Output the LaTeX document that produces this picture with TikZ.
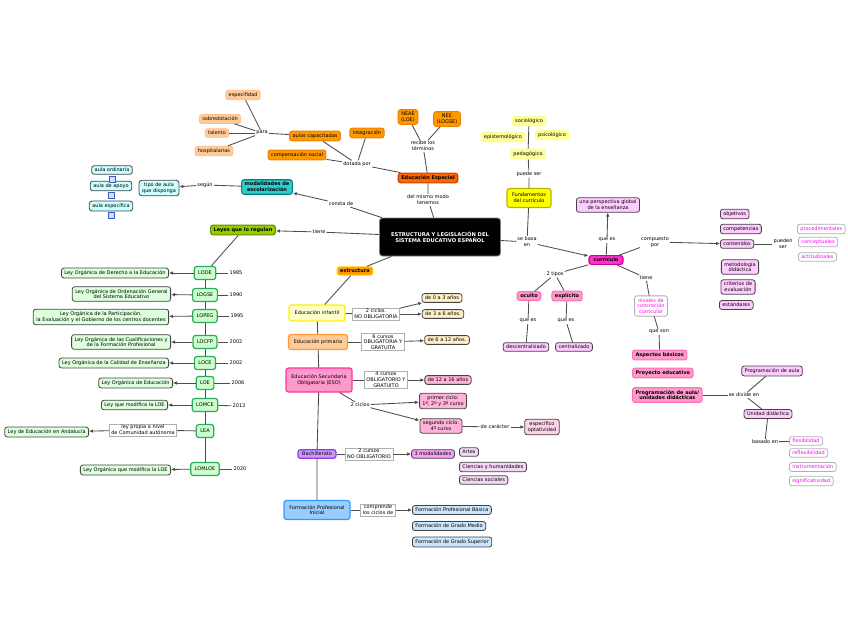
\documentclass[tikz,border=0pt]{standalone}
\usepackage{fontspec}
\setmainfont{DejaVu Sans}
\usetikzlibrary{arrows.meta}

\definecolor{linea}{HTML}{4D4D4D}
\definecolor{borde}{HTML}{444444}
\definecolor{gris}{HTML}{B0B0B0}
\definecolor{fucsiaT}{HTML}{FF00FF}

\tikzset{
	caja/.style={rounded corners=2.5pt, line width=0.8pt, inner xsep=3pt, inner ysep=2.4pt, align=center, font=\fontsize{5}{5.8}\selectfont},
	negrita/.style={font=\fontsize{5}{5.8}\selectfont\bfseries},
	sistema/.style={caja, fill=black, draw=gray, text=white, rounded corners=3pt, minimum width=121pt, minimum height=38pt, font=\fontsize{5.2}{6.4}\selectfont\bfseries},
	especial/.style={caja, negrita, fill={rgb,255:red,255;green,102;blue,0}, draw={rgb,255:red,190;green,70;blue,0}, line width=1.1pt},
	naranja/.style={caja, fill={rgb,255:red,255;green,153;blue,0}, draw={rgb,255:red,235;green,130;blue,0}, line width=1pt},
	melocoton/.style={caja, fill={rgb,255:red,255;green,204;blue,153}, draw={rgb,255:red,255;green,190;blue,140}, line width=0.8pt},
	turquesa/.style={caja, negrita, fill={rgb,255:red,51;green,204;blue,204}, draw={rgb,255:red,0;green,130;blue,130}, line width=1.1pt},
	celeste/.style={caja, fill={rgb,255:red,204;green,255;blue,255}, draw=borde},
	icono/.style={draw={rgb,255:red,60;green,90;blue,200}, fill={rgb,255:red,210;green,225;blue,255}, line width=0.6pt, minimum size=6pt, inner sep=0pt},
	leyes/.style={caja, negrita, fill={rgb,255:red,153;green,204;blue,0}, draw={rgb,255:red,90;green,140;blue,0}, line width=1.1pt},
	sigla/.style={caja, fill={rgb,255:red,204;green,255;blue,204}, draw={rgb,255:red,46;green,170;blue,94}, line width=1.2pt, inner xsep=4pt, minimum height=13pt},
	ley/.style={caja, fill={rgb,255:red,221;green,255;blue,221}, draw=borde},
	estruc/.style={caja, negrita, fill={rgb,255:red,255;green,153;blue,0}, draw={rgb,255:red,255;green,204;blue,0}, line width=1.1pt},
	infantil/.style={caja, fill={rgb,255:red,255;green,255;blue,204}, draw={rgb,255:red,255;green,240;blue,0}, line width=1.3pt},
	crema/.style={caja, fill={rgb,255:red,255;green,240;blue,200}, draw=borde},
	primaria/.style={caja, fill={rgb,255:red,255;green,204;blue,153}, draw={rgb,255:red,255;green,153;blue,51}, line width=1.2pt},
	eso/.style={caja, fill={rgb,255:red,255;green,153;blue,204}, draw={rgb,255:red,255;green,51;blue,153}, line width=1.2pt},
	rosa/.style={caja, fill={rgb,255:red,255;green,179;blue,217}, draw=borde},
	rosaclaro/.style={caja, fill={rgb,255:red,255;green,210;blue,235}, draw=borde},
	bach/.style={caja, fill={rgb,255:red,204;green,153;blue,255}, draw={rgb,255:red,150;green,60;blue,210}, line width=1.2pt},
	modal/.style={caja, fill={rgb,255:red,245;green,160;blue,245}, draw=borde},
	lila/.style={caja, fill={rgb,255:red,245;green,215;blue,245}, draw=borde},
	fp/.style={caja, fill={rgb,255:red,153;green,204;blue,255}, draw={rgb,255:red,51;green,153;blue,255}, line width=1.2pt},
	azul/.style={caja, fill={rgb,255:red,204;green,229;blue,255}, draw=borde},
	fund/.style={caja, fill={rgb,255:red,255;green,255;blue,0}, draw={rgb,255:red,180;green,180;blue,0}, line width=1.1pt},
	amarillo/.style={caja, fill={rgb,255:red,255;green,255;blue,153}, draw={rgb,255:red,255;green,255;blue,153}},
	curri/.style={caja, negrita, fill={rgb,255:red,255;green,51;blue,204}, draw={rgb,255:red,204;green,0;blue,153}, line width=1.1pt},
	malva/.style={caja, fill={rgb,255:red,255;green,204;blue,255}, draw=borde},
	fucsia/.style={caja, negrita, fill={rgb,255:red,255;green,153;blue,204}, draw={rgb,255:red,255;green,110;blue,180}, line width=1.1pt},
	blanco/.style={caja, fill=white, draw=gris, text=fucsiaT},
	lbl/.style={align=center, inner sep=1pt, fill=white, font=\fontsize{5}{5.8}\selectfont},
	lblcaja/.style={lbl, draw=gris, line width=0.6pt, inner xsep=2pt},
	anio/.style={inner sep=1pt, font=\fontsize{5}{5.8}\selectfont},
	con/.style={draw=linea, line width=0.85pt},
	flecha/.style={con, -{Latex[length=4pt,width=3.5pt]}}
}

\begin{document}
\begin{tikzpicture}[x=1pt,y=-1pt]
	\useasboundingbox (0,0) rectangle (848,638);

	\node (sistema) at (440,237)[sistema] {ESTRUCTURA Y LEGISLACIÓN DEL\\SISTEMA EDUCATIVO ESPAÑOL};

	\node (especial) at (428,178)[especial] {Educación Especial};
	\node (tenemos) at (428,200)[lbl] {del mismo modo\\tenemos};
	\node (recibe) at (423,146)[lbl] {recibe los\\términos};
	\node (neae) at (408,117)[naranja] {NEAE\\(LOE)};
	\node (nee) at (447,119)[naranja] {NEE\\(LOGSE)};
	\node (dotada) at (357,164)[lbl] {dotada por};
	\node (integracion) at (367,133)[naranja] {integración};
	\node (aulascap) at (315,136)[naranja] {aulas capacitadas};
	\node (compens) at (297,155)[naranja] {compensación social};
	\node (para) at (262,133)[lbl] {para};
	\node (especif) at (243,95)[melocoton] {especifidad};
	\node (sobredot) at (220,119)[melocoton] {sobredotación};
	\node (talento) at (217,133)[melocoton] {talento};
	\node (hospital) at (214,151)[melocoton] {hospitalarias};

	\node (modal) at (267,187)[turquesa] {modalidades de\\escolarización};
	\node (consta) at (341,204)[lbl] {consta de};
	\node (segun) at (205,185)[lbl] {según};
	\node (tipoaula) at (159,188)[celeste] {tipo de aula\\que disponga};
	\node (ordinaria) at (112,170)[celeste] {aula ordinaria};
	\node (apoyo) at (111,186)[celeste] {aula de apoyo};
	\node (especifica) at (111,206)[celeste] {aula específica};
	\node (icoA) at (112,179)[icono] {};
	\node (icoB) at (111,195)[icono] {};
	\node (icoC) at (111,215)[icono] {};

	\node (leyes) at (243,230)[leyes] {Leyes que lo regulan};
	\node (tiene) at (319,232)[lbl] {tiene};

	\node (lode) at (205,273)[sigla] {LODE};
	\node (logse) at (205,295)[sigla] {LOGSE};
	\node (lopeg) at (205,316)[sigla] {LOPEG};
	\node (locfp) at (205,342)[sigla] {LOCFP};
	\node (loce) at (205,363)[sigla] {LOCE};
	\node (loe) at (205,383)[sigla] {LOE};
	\node (lomce) at (205,405)[sigla] {LOMCE};
	\node (lea) at (205,431)[sigla] {LEA};
	\node (lomloe) at (205,469)[sigla] {LOMLOE};

	\node (a1985) at (236,273)[anio] {1985};
	\node (a1990) at (236,295)[anio] {1990};
	\node (a1995) at (237,316)[anio] {1995};
	\node (a2002) at (236,342)[anio] {2002};
	\node (b2002) at (236,363)[anio] {2002};
	\node (a2006) at (238,383)[anio] {2006};
	\node (a2013) at (239,406)[anio] {2013};
	\node (a2020) at (240,469)[anio] {2020};

	\node (ldode) at (169,273)[ley,anchor=east] {Ley Orgánica de Derecho a la Educación};
	\node (llogse) at (171,294)[ley,anchor=east] {Ley Orgánica de Ordenación General\\del Sistema Educativo};
	\node (llopeg) at (169,317)[ley,anchor=east] {Ley Orgánica de la Participación,\\la Evaluación y el Gobierno de los centros docentes};
	\node (llocfp) at (171,342)[ley,anchor=east] {Ley Orgánica de las Cualificaciones y\\de la Formación Profesional};
	\node (lloce) at (169,363)[ley,anchor=east] {Ley Orgánica de la Calidad de Enseñanza};
	\node (lloe) at (173,383)[ley,anchor=east] {Ley Orgánica de Educación};
	\node (llomce) at (168,405)[ley,anchor=east] {Ley que modifica la LOE};
	\node (propia) at (143,430)[lblcaja] {ley propia a nivel\\de Comunidad autónoma};
	\node (llea) at (89,432)[ley,anchor=east] {Ley de Educación en Andalucía};
	\node (llomloe) at (171,470)[ley,anchor=east] {Ley Orgánica que modifica la LOE};

	\node (estruc) at (355,271)[estruc] {estructura};
	\node (infantil) at (317,313)[infantil,minimum width=56pt,minimum height=16pt] {Educación infantil};
	\node (ciclos) at (376,314)[lblcaja] {2 ciclos.\\NO OBLIGATORIA};
	\node (e03) at (442,298)[crema] {de 0 a 3 años};
	\node (e36) at (443,314)[crema] {de 3 a 6 años.};
	\node (primaria) at (318,342)[primaria,minimum width=59pt,minimum height=15pt] {Educación primaria};
	\node (cursos6) at (383,342)[lblcaja] {6 cursos\\OBLIGATORIA Y\\GRATUITA};
	\node (e612) at (447,340)[crema] {de 6 a 12 años.};
	\node (eso) at (319,380)[eso,minimum width=66pt,minimum height=24pt] {Educación Secundaria\\Obligatoria (ESO)};
	\node (cursos4) at (386,380)[lblcaja] {4 cursos\\OBLIGATORIO Y\\GRATUITO};
	\node (e1216) at (448,380)[rosa] {de 12 a 16 años};
	\node (ciclosb) at (360,405)[lbl] {2 ciclos};
	\node (primer) at (443,401)[rosa] {primer ciclo:\\1º, 2º y 3º curso};
	\node (segundo) at (441,426)[rosa] {segundo ciclo:\\4º curso};
	\node (caracter) at (495,427)[lbl] {de carácter};
	\node (optativ) at (542,427)[rosaclaro] {específico\\optatividad};
	\node (bach) at (317,454)[bach,minimum width=38pt] {Bachillerato};
	\node (cursos2) at (369,454)[lblcaja] {2 cursos\\NO OBLIGATORIO};
	\node (modal3) at (433,454)[modal] {3 modalidades};
	\node (artes) at (459,452)[lila,anchor=west] {Artes};
	\node (cyh) at (459,467)[lila,anchor=west] {Ciencias y humanidades};
	\node (csoc) at (459,480)[lila,anchor=west] {Ciencias sociales};
	\node (fpi) at (317,510)[fp,minimum width=66pt,minimum height=19pt] {Formación Profesional\\Inicial};
	\node (comprende) at (378,510)[lblcaja] {comprende\\los ciclos de};
	\node (fpb) at (412,510)[azul,anchor=west] {Formación Profesional Básica};
	\node (fgm) at (412,526)[azul,anchor=west] {Formación de Grado Medio};
	\node (fgs) at (412,542)[azul,anchor=west] {Formación de Grado Superior};

	\node (fund) at (529,198)[fund,minimum width=44pt,minimum height=19pt] {Fundamentos\\del currículo};
	\node (puede) at (529,174)[lbl] {puede ser};
	\node (pedag) at (528,154)[amarillo] {pedagógico};
	\node (epist) at (503,137)[amarillo] {epistemológico};
	\node (socio) at (529,121)[amarillo] {sociológico};
	\node (psico) at (552,135)[amarillo] {psicológico};
	\node (basa) at (527,242)[lbl] {se basa\\en};

	\node (curri) at (606,260)[curri,minimum width=34pt] {currículo};
	\node (quees) at (607,240)[lbl] {que es};
	\node (persp) at (608,205)[malva] {una perspectiva global\\de la enseñanza};
	\node (compuesto) at (655,242)[lbl] {compuesto\\por};
	\node (objetivos) at (720,214)[malva,anchor=west] {objetivos};
	\node (competencias) at (720,229)[malva,anchor=west] {competencias};
	\node (contenidos) at (720,244)[malva,anchor=west] {contenidos};
	\node (metodologia) at (740,267)[malva] {metodología\\didáctica};
	\node (criterios) at (738,287)[malva] {criterios de\\evaluación};
	\node (estandares) at (719,305)[malva,anchor=west] {estándares};
	\node (pueden) at (783,244)[lbl] {pueden\\ser};
	\node (proced) at (797,229)[blanco,anchor=west] {procedimentales};
	\node (concep) at (798,242)[blanco,anchor=west] {conceptuales};
	\node (actit) at (798,257)[blanco,anchor=west] {actitudinales};

	\node (tipos) at (555,274)[lbl] {2 tipos};
	\node (oculto) at (529,296)[fucsia] {oculto};
	\node (explicito) at (567,296)[fucsia] {explícito};
	\node (queesA) at (528,321)[lbl] {que es};
	\node (queesB) at (566,321)[lbl] {que es};
	\node (descent) at (526,347)[malva] {descentralizado};
	\node (centraliz) at (574,347)[malva] {centralizado};

	\node (tienec) at (646,278)[lbl] {tiene};
	\node (niveles) at (651,306)[blanco] {niveles de\\concreción\\curricular};
	\node (queson) at (659,332)[lbl] {que son};
	\node (aspectos) at (632,355)[fucsia,anchor=west] {Aspectos básicos};
	\node (proyecto) at (632,373)[fucsia,anchor=west] {Proyecto educativo};
	\node (program) at (632,395)[fucsia,anchor=west] {Programación de aula/\\unidades didácticas};
	\node (divide) at (744,395)[lbl] {se divide en};
	\node (progaula) at (772,371)[malva] {Programación de aula};
	\node (unidad) at (768,414)[malva] {Unidad didáctica};
	\node (basado) at (765,442)[lbl] {basado en};
	\node (flexib) at (789,441)[blanco,anchor=west] {flexibilidad};
	\node (reflex) at (789,453)[blanco,anchor=west] {reflexibilidad};
	\node (instrum) at (789,467)[blanco,anchor=west] {instrumentación};
	\node (signif) at (789,481)[blanco,anchor=west] {significatividad};

	\draw[con] (sistema) -- (tenemos) -- (especial);
	\draw[con] (especial) -- (recibe);
	\draw[con] (recibe) -- (neae);
	\draw[con] (recibe) -- (nee);
	\draw[con] (especial) -- (dotada);
	\draw[con] (dotada) -- (integracion);
	\draw[con] (dotada) -- (aulascap);
	\draw[con] (dotada) -- (compens);
	\draw[con] (aulascap) -- (para);
	\draw[con] (para) -- (especif);
	\draw[con] (para) -- (sobredot);
	\draw[con] (para) -- (talento);
	\draw[con] (para) -- (hospital);

	\draw[con] (sistema) -- (consta);
	\draw[flecha] (consta) -- (modal);
	\draw[con] (modal) -- (segun);
	\draw[flecha] (segun) -- (tipoaula);

	\draw[con] (sistema) -- (tiene);
	\draw[flecha] (tiene) -- (leyes);
	\draw[con] (leyes) -- (lode);
	\draw[con] (lode) -- (logse) -- (lopeg) -- (locfp) -- (loce) -- (loe) -- (lomce) -- (lea) -- (lomloe);
	\draw[con] (lode) -- (a1985);
	\draw[con] (logse) -- (a1990);
	\draw[con] (lopeg) -- (a1995);
	\draw[con] (locfp) -- (a2002);
	\draw[con] (loce) -- (b2002);
	\draw[con] (loe) -- (a2006);
	\draw[con] (lomce) -- (a2013);
	\draw[con] (lomloe) -- (a2020);
	\draw[flecha] (lode) -- (ldode);
	\draw[flecha] (logse) -- (llogse);
	\draw[flecha] (lopeg) -- (llopeg);
	\draw[flecha] (locfp) -- (llocfp);
	\draw[flecha] (loce) -- (lloce);
	\draw[flecha] (loe) -- (lloe);
	\draw[flecha] (lomce) -- (llomce);
	\draw[con] (lea) -- (propia);
	\draw[flecha] (propia) -- (llea);
	\draw[flecha] (lomloe) -- (llomloe);

	\draw[con] (sistema) -- (estruc);
	\draw[con] (estruc) -- (infantil);
	\draw[con] (infantil) -- (primaria) -- (eso) -- (bach) -- (fpi);
	\draw[con] (infantil) -- (ciclos);
	\draw[flecha] (ciclos) -- (e03);
	\draw[flecha] (ciclos) -- (e36);
	\draw[con] (primaria) -- (cursos6);
	\draw[flecha] (cursos6) -- (e612);
	\draw[con] (eso) -- (cursos4);
	\draw[flecha] (cursos4) -- (e1216);
	\draw[con] (eso) -- (ciclosb);
	\draw[flecha] (ciclosb) -- (primer);
	\draw[flecha] (ciclosb) -- (segundo);
	\draw[con] (segundo) -- (caracter);
	\draw[flecha] (caracter) -- (optativ);
	\draw[con] (bach) -- (cursos2);
	\draw[flecha] (cursos2) -- (modal3);
	\draw[con] (fpi) -- (comprende);
	\draw[flecha] (comprende) -- (fpb);

	\draw[con] (sistema) -- (basa);
	\draw[con] (fund) -- (basa);
	\draw[flecha] (basa) -- (curri);
	\draw[con] (fund) -- (puede) -- (pedag) -- (socio);
	\draw[con] (curri) -- (quees);
	\draw[flecha] (quees) -- (persp);
	\draw[con] (curri) -- (compuesto);
	\draw[flecha] (compuesto) -- (contenidos);
	\draw[con] (contenidos) -- (pueden);
	\draw[con] (curri) -- (tipos);
	\draw[con] (tipos) -- (oculto);
	\draw[con] (tipos) -- (explicito);
	\draw[con] (oculto) -- (queesA) -- (descent);
	\draw[con] (explicito) -- (queesB) -- (centraliz);
	\draw[con] (curri) -- (tienec) -- (niveles);
	\draw[con] (niveles) -- (queson) -- (aspectos);
	\draw[con] (program) -- (divide);
	\draw[con] (divide) -- (progaula);
	\draw[con] (divide) -- (unidad);
	\draw[con] (unidad) -- (basado);
	\draw[con] (basado) -- (flexib);
\end{tikzpicture}
\end{document}
